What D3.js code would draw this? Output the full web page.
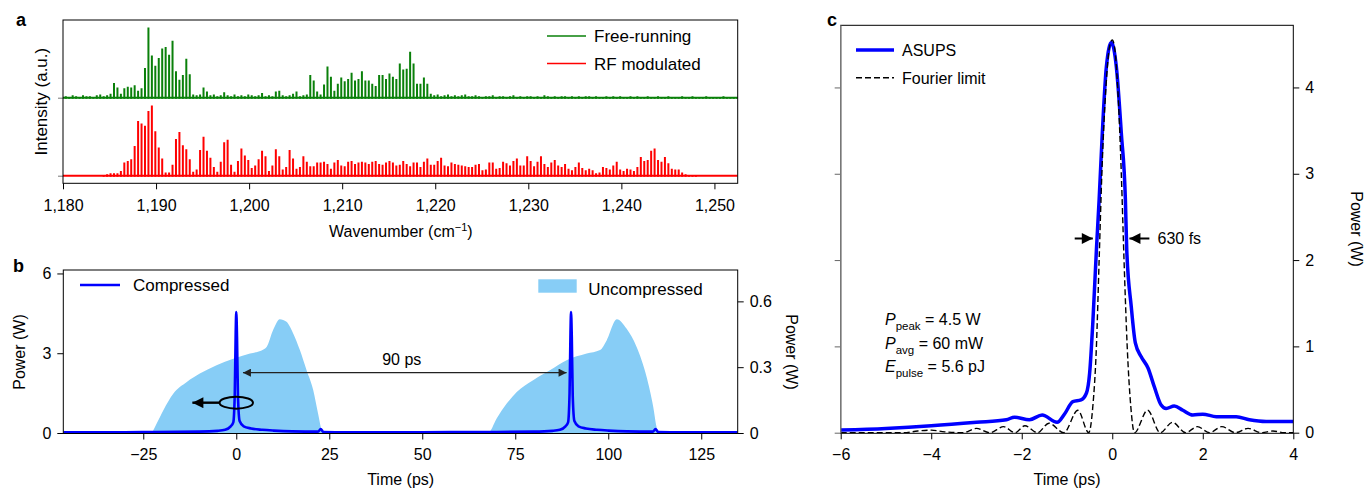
<!DOCTYPE html>
<meta charset="utf-8">
<html>
<head>
<title>ASUPS pulse figure</title>
<script src="https://d3js.org/d3.v7.min.js"></script>
<style>
  body { margin: 0; background: #fff; }
  svg { display: block; font-family: "Liberation Sans", Arial, Helvetica, sans-serif; }
</style>
</head>
<body>
<svg id="fig" width="1368" height="488"></svg>
<script>
// ---------- panel a : comb line intensities, one value per mode (0.37 cm-1 apart)
var modeSpacing = 0.37;
var freeStart = 1180.30;
var freeRunning = [
  0.02,0.01,0.03,0.02,0.01,0.03,0.02,0.02,0.01,0.03,0.04,0.02,0.03,0.05,
  0.19,0.13,0.05,0.12,0.14,0.13,0.16,0.09,0.12,0.38,0.90,0.54,0.41,0.51,0.63,0.65,0.55,0.73,0.34,0.23,
  0.29,0.50,0.30,0.04,0.03,0.04,0.13,0.08,
  0.03,0.04,0.02,0.03,0.07,0.03,0.02,0.04,0.02,0.03,0.02,0.04,0.03,0.02,0.03,0.06,0.02,0.03,0.02,0.08,
  0.09,0.03,0.02,0.03,0.05,0.08,0.02,0.03,0.04,
  0.29,0.22,0.08,0.04,0.17,0.40,0.27,0.09,0.18,0.26,0.21,0.24,0.32,0.22,0.24,0.34,0.22,0.22,0.18,0.15,
  0.29,0.29,0.24,0.31,0.27,0.24,0.44,0.36,0.37,0.59,0.44,0.18,0.18,0.26,0.18,0.05,
  0.03,0.04,0.02,0.03,0.04,0.02,0.03,0.02,0.03,0.04,0.02,0.02,0.03,0.02,0.01,0.02,0.02,0.03,0.01,0.02,
  0.02,0.01,0.02,0.03,0.01,0.02,0.01,0.02,0.02,0.01,0.02,0.01,0.03,0.02,0.01,0.02,0.01,0.02,0.02,0.01,
  0.02,0.01,0.02,0.01,0.02,0.02,0.01,0.02,0.01,0.01,0.02,0.01,0.02,0.01,0.02,0.01,0.01,0.02,0.01,0.02,
  0.01,0.01,0.02,0.01,0.01,0.02,0.01,0.01,0.02,0.01,0.01,0.01,0.02,0.01,0.01,0.02,0.01,0.01,0.01,0.02,
  0.01,0.01,0.01,0.01,0.02,0.01,0.01,0.01,0.01
];
var rfStart = 1184.37;
var rfModulated = [
  0.01,0.02,0.03,0.03,0.03,0.06,
  0.17,0.19,0.21,0.38,0.70,0.67,0.64,0.83,0.90,0.57,0.36,0.22,
  0.04,0.04,0.14,0.47,0.56,0.39,0.34,0.21,0.05,0.08,
  0.33,0.50,0.32,0.23,0.11,0.05,0.18,0.43,0.46,0.14,
  0.05,0.19,0.35,0.26,0.20,0.10,0.13,0.21,0.32,0.25,
  0.06,0.13,0.34,0.25,0.08,0.11,0.33,0.22,0.09,0.11,
  0.25,0.18,0.12,0.12,0.17,0.17,0.18,0.15,0.09,0.17,
  0.20,0.13,0.12,0.18,0.19,0.15,0.17,0.18,0.17,0.15,
  0.18,0.19,0.15,0.14,0.17,0.19,0.17,0.13,0.14,0.19,
  0.15,0.12,0.17,0.17,0.11,0.18,0.22,0.14,0.14,0.19,
  0.23,0.13,0.12,0.17,0.15,0.14,0.13,0.12,0.11,0.11,
  0.14,0.15,0.07,0.08,0.17,0.17,0.09,0.10,0.18,0.16,
  0.13,0.19,0.22,0.13,0.13,0.25,0.19,0.12,0.18,0.25,
  0.15,0.11,0.17,0.20,0.13,0.11,0.15,0.09,0.07,0.11,
  0.17,0.10,0.07,0.09,0.07,0.03,0.04,0.11,0.10,0.08,
  0.13,0.18,0.08,0.06,0.09,0.08,0.06,0.11,0.24,0.19,
  0.20,0.32,0.35,0.20,0.18,0.24,0.16,0.09,0.08,0.08,
  0.04,0.02,0.01,0.01,0.00
];
var wnTicks = [1180, 1190, 1200, 1210, 1220, 1230, 1240, 1250];

// ---------- panel b : [time ps, power]
var uncompressed = [
  [-46.5,0],[-23.0,0],[-22.7,0.003],[-21.4,0.043],[-19.6,0.104],[-16.9,0.18],[-13.3,0.233],[-9.8,0.271],
  [-5.3,0.309],[-0.8,0.339],[3.7,0.362],[7.3,0.381],[8.2,0.393],[9.9,0.469],[11.7,0.519],[13.5,0.507],
  [15.3,0.454],[17.1,0.378],[18.9,0.286],[20.7,0.195],[22.0,0.088],[23.0,0.012],[23.4,0],[32,0],
  [36,0.006],[40,0.004],[45,0],[67.7,0],[70.0,0.066],[72.7,0.134],[75.4,0.187],[79.8,0.241],[84.3,0.286],
  [88.8,0.332],[94.2,0.362],[97.8,0.378],[99.6,0.423],[102.3,0.519],[104.9,0.476],[107.6,0.393],
  [110.3,0.256],[112.1,0.119],[113.0,0.027],[113.4,0],[122,0],[126,0.005],[130,0.003],[134.8,0]
];
var compressed = [
  [-46.5,0.03],[-30,0.03],[-22,0.04],[-10,0.05],[-5,0.08],[-3,0.12],[-1.5,0.25],[-0.8,0.4],[-0.4,1.5],
  [-0.15,3.8],[0,4.55],[0.2,3.6],[0.45,1.4],[0.9,0.45],[2,0.25],[4,0.17],[7,0.12],[10,0.09],[15,0.06],
  [22,0.05],[22.7,0.15],[23.4,0.04],[30,0.03],[50,0.03],[70,0.04],[80,0.05],[85,0.08],[87,0.12],
  [88.5,0.25],[89.2,0.4],[89.6,1.5],[89.85,3.8],[90,4.55],[90.2,3.6],[90.45,1.4],[90.9,0.45],[92,0.25],
  [94,0.17],[97,0.12],[100,0.09],[105,0.06],[112,0.05],[112.7,0.15],[113.4,0.04],[120,0.03],[134.8,0.03]
];
var timeTicksB = [-25, 0, 25, 50, 75, 100, 125];
var powerTicksB = [0, 3, 6];
var powerTicksBR = [0, 0.3, 0.6];

// ---------- panel c : [time ps, power W]
var asups = [
  [-6,0.03],[-5,0.05],[-4,0.08],[-3,0.12],[-2.34,0.15],[-2.16,0.18],[-1.83,0.15],[-1.55,0.205],
  [-1.22,0.12],[-1.05,0.22],[-0.87,0.36],[-0.69,0.38],[-0.57,0.46],[-0.50,0.69],[-0.43,1.27],
  [-0.35,2.12],[-0.29,2.70],[-0.22,3.47],[-0.13,4.24],[-0.02,4.52],[0.09,4.24],[0.20,3.47],[0.29,2.70],
  [0.32,2.12],[0.42,1.46],[0.51,1.04],[0.64,0.88],[0.79,0.75],[0.93,0.53],[1.08,0.32],[1.19,0.28],
  [1.37,0.31],[1.56,0.26],[1.78,0.205],[2.0,0.215],[2.30,0.185],[2.74,0.185],[3.03,0.15],[3.40,0.13],[4,0.13]
];
var fourierLimit = [
  [-6,0],[-4.6,0],[-4.3,0.02],[-4.0,0.03],[-3.7,0.01],[-3.3,0],[-3.0,0.05],[-2.7,0],[-2.4,0.07],[-2.15,0],
  [-1.93,0.08],[-1.65,0],[-1.4,0.11],[-1.07,0],[-0.76,0.26],[-0.52,0],[-0.43,0.3],[-0.35,1.0],[-0.29,2.0],
  [-0.23,3.0],[-0.14,4.0],[-0.05,4.5],[0,4.55],[0.04,4.5],[0.12,4.0],[0.2,3.0],[0.26,2.0],[0.33,1.0],
  [0.41,0.3],[0.49,0],[0.78,0.26],[1.06,0],[1.33,0.12],[1.62,0],[1.88,0.07],[2.15,0],[2.42,0.07],[2.72,0],
  [3.0,0.05],[3.3,0],[3.55,0.02],[3.8,0],[4.0,0]
];
var timeTicksC = [-6, -4, -2, 0, 2, 4];
var powerTicksC = [0, 1, 2, 3, 4];

var svg = d3.select("#fig");
var defs = svg.append("defs");
var plain = d3.format("~g");
function marker(id, w, h, color) {
  defs.append("marker").attr("id", id).attr("viewBox", "0 0 10 10")
    .attr("refX", 10).attr("refY", 5).attr("markerUnits", "userSpaceOnUse")
    .attr("markerWidth", w).attr("markerHeight", h).attr("orient", "auto-start-reverse")
    .append("path").attr("d", "M0,0 L10,5 L0,10 z").attr("fill", color);
}
marker("headSmall", 9, 8, "#222");
marker("headBig", 12, 11, "#000");

function styleAxis(g) {
  g.attr("font-size", 16).attr("font-family", null);
  g.select(".domain").remove();
  g.selectAll(".tick line").attr("stroke", "#000");
}
function frame(x0, y0, x1, y1) {
  svg.append("rect").attr("x", x0).attr("y", y0).attr("width", x1 - x0).attr("height", y1 - y0)
    .attr("fill", "none").attr("stroke", "#000").attr("stroke-width", 1);
}

// ================= panel a
var ax = d3.scaleLinear().domain([1180, 1252.5]).range([63, 737.7]);
var ay = d3.scaleLinear().domain([0, 1]).range([175.7, 97.7]);
var aTop = 20, aBottom = 183.3;
defs.append("clipPath").attr("id", "clipA").append("rect")
  .attr("x", 63).attr("y", aTop).attr("width", 737.7 - 63).attr("height", aBottom - aTop);

function spectrum(vals, start, offset, color) {
  var g = svg.append("g").attr("clip-path", "url(#clipA)");
  g.append("line").attr("x1", ax(1180)).attr("x2", ax(1252.5))
    .attr("y1", ay(offset)).attr("y2", ay(offset))
    .attr("stroke", color).attr("stroke-width", 2);
  g.selectAll("line.mode").data(vals).enter().append("line").attr("class", "mode")
    .attr("x1", function(d, i) { return ax(start + i * modeSpacing); })
    .attr("x2", function(d, i) { return ax(start + i * modeSpacing); })
    .attr("y1", ay(offset) + 1)
    .attr("y2", function(d) { return ay(offset + d); })
    .attr("stroke", color).attr("stroke-width", 2);
}
spectrum(freeRunning, freeStart, 1, "#0a800a");
spectrum(rfModulated, rfStart, 0, "#ff0000");

svg.append("g").attr("transform", "translate(0," + aBottom + ")")
  .call(d3.axisBottom(ax).tickValues(wnTicks).tickFormat(d3.format(",")).tickSize(6).tickPadding(10))
  .call(styleAxis);
svg.append("g").attr("transform", "translate(63,0)")
  .call(d3.axisLeft(ay).tickValues([0, 1]).tickFormat("").tickSize(5))
  .call(styleAxis)
  .selectAll(".tick line").attr("stroke", "#777");
frame(63, aTop, 737.7, aBottom);

svg.append("text").attr("transform", "translate(47," + (aTop + aBottom) / 2 + ") rotate(-90)")
  .attr("text-anchor", "middle").attr("font-size", 17).text("Intensity (a.u.)");
var wl = svg.append("text").attr("x", ax(1216.3)).attr("y", 237).attr("text-anchor", "middle").attr("font-size", 16);
wl.append("tspan").text("Wavenumber (cm");
wl.append("tspan").attr("dy", -6).attr("font-size", 11).text("\u22121");
wl.append("tspan").attr("dy", 6).text(")");

var legA = [["Free-running", "#0a800a"], ["RF modulated", "#ff0000"]];
legA.forEach(function(d, i) {
  var y = 36 + i * 27.5;
  svg.append("line").attr("x1", 547).attr("x2", 586).attr("y1", y).attr("y2", y)
    .attr("stroke", d[1]).attr("stroke-width", 1.5);
  svg.append("text").attr("x", 594).attr("y", y + 6).attr("font-size", 17).text(d[0]);
});

// ================= panel b
var bx = d3.scaleLinear().domain([-46.5, 134.8]).range([63.3, 737.7]);
var byL = d3.scaleLinear().domain([0, 6.13]).range([433, 270]);
var byR = d3.scaleLinear().domain([0, 0.743]).range([433, 270]);
defs.append("clipPath").attr("id", "clipB").append("rect")
  .attr("x", 63.3).attr("y", 270).attr("width", 737.7 - 63.3).attr("height", 164);

var gb = svg.append("g").attr("clip-path", "url(#clipB)");
gb.append("path").datum(uncompressed)
  .attr("d", d3.area().x(function(d) { return bx(d[0]); }).y0(byR(0))
    .y1(function(d) { return byR(d[1]); }).curve(d3.curveMonotoneX))
  .attr("fill", "#87cdf6");
gb.append("path").datum(compressed)
  .attr("d", d3.line().x(function(d) { return bx(d[0]); }).y(function(d) { return byL(d[1]); })
    .curve(d3.curveMonotoneX))
  .attr("fill", "none").attr("stroke", "#0000ff").attr("stroke-width", 2.6);

svg.append("g").attr("transform", "translate(0,433.5)")
  .call(d3.axisBottom(bx).tickValues(timeTicksB).tickSize(6).tickPadding(9))
  .call(styleAxis);
svg.append("g").attr("transform", "translate(63.3,0)")
  .call(d3.axisLeft(byL).tickValues(powerTicksB).tickFormat(plain).tickSize(6).tickPadding(6))
  .call(styleAxis);
svg.append("g").attr("transform", "translate(737.7,0)")
  .call(d3.axisRight(byR).tickValues(powerTicksBR).tickFormat(plain).tickSize(6).tickPadding(6))
  .call(styleAxis);
frame(63.3, 270, 737.7, 433.5);

svg.append("text").attr("transform", "translate(25,352) rotate(-90)")
  .attr("text-anchor", "middle").attr("font-size", 16).text("Power (W)");
svg.append("text").attr("transform", "translate(786,352) rotate(90)")
  .attr("text-anchor", "middle").attr("font-size", 16).text("Power (W)");
svg.append("text").attr("x", bx(44.2)).attr("y", 485).attr("text-anchor", "middle")
  .attr("font-size", 16).text("Time (ps)");

// 90 ps spacing arrow
svg.append("line").attr("x1", bx(1.8)).attr("x2", bx(88.8)).attr("y1", byL(2.27)).attr("y2", byL(2.27))
  .attr("stroke", "#222").attr("stroke-width", 1.3)
  .attr("marker-start", "url(#headSmall)").attr("marker-end", "url(#headSmall)");
svg.append("text").attr("x", bx(44.5)).attr("y", byL(2.55)).attr("text-anchor", "middle")
  .attr("font-size", 16).text("90 ps");
// ellipse pointing to left axis
svg.append("ellipse").attr("cx", bx(0)).attr("cy", byL(1.14)).attr("rx", 16.7).attr("ry", 6)
  .attr("fill", "none").attr("stroke", "#000").attr("stroke-width", 2);
svg.append("line").attr("x1", bx(0) - 16.7).attr("x2", bx(-11.8)).attr("y1", byL(1.14)).attr("y2", byL(1.14))
  .attr("stroke", "#000").attr("stroke-width", 2.4).attr("marker-end", "url(#headBig)");

// legend b
svg.append("line").attr("x1", 80).attr("x2", 120).attr("y1", 285).attr("y2", 285)
  .attr("stroke", "#0000ff").attr("stroke-width", 2.6);
svg.append("text").attr("x", 133).attr("y", 291).attr("font-size", 17).text("Compressed");
svg.append("rect").attr("x", 538.3).attr("y", 279.3).attr("width", 38.4).attr("height", 13.4).attr("fill", "#87cdf6");
svg.append("text").attr("x", 588.3).attr("y", 295).attr("font-size", 17).text("Uncompressed");

// ================= panel c
var cx = d3.scaleLinear().domain([-6, 4]).range([840.7, 1293.3]);
var cy = d3.scaleLinear().domain([0, 4.72]).range([432.7, 25.3]);
defs.append("clipPath").attr("id", "clipC").append("rect")
  .attr("x", 840.7).attr("y", 25.3).attr("width", 1293.3 - 840.7).attr("height", 408);

var gc = svg.append("g").attr("clip-path", "url(#clipC)");
var lineC = d3.line().x(function(d) { return cx(d[0]); }).y(function(d) { return cy(d[1]); })
  .curve(d3.curveMonotoneX);
gc.append("path").datum(asups).attr("d", lineC)
  .attr("fill", "none").attr("stroke", "#0000ff").attr("stroke-width", 3.5);
gc.append("path").datum(fourierLimit).attr("d", lineC)
  .attr("fill", "none").attr("stroke", "#000").attr("stroke-width", 1.4).attr("stroke-dasharray", "6,3");

svg.append("g").attr("transform", "translate(0,433.3)")
  .call(d3.axisBottom(cx).tickValues(timeTicksC).tickSize(6).tickPadding(9))
  .call(styleAxis);
svg.append("g").attr("transform", "translate(840.7,0)")
  .call(d3.axisLeft(cy).tickValues(powerTicksC).tickFormat("").tickSize(6))
  .call(styleAxis)
  .selectAll(".tick line").attr("stroke", "#666");
svg.append("g").attr("transform", "translate(1293.3,0)")
  .call(d3.axisRight(cy).tickValues(powerTicksC).tickFormat(plain).tickSize(6).tickPadding(6))
  .call(styleAxis);
frame(840.7, 25.3, 1293.3, 433.3);
svg.append("line").attr("x1", 840.7).attr("x2", 840.7).attr("y1", 25.3).attr("y2", 433.3)
  .attr("stroke", "#777").attr("stroke-width", 1.4);

svg.append("text").attr("x", 1067).attr("y", 485).attr("text-anchor", "middle")
  .attr("font-size", 16).text("Time (ps)");
svg.append("text").attr("transform", "translate(1351,229) rotate(90)")
  .attr("text-anchor", "middle").attr("font-size", 16).text("Power (W)");

// legend c
svg.append("line").attr("x1", 856).attr("x2", 894).attr("y1", 50).attr("y2", 50)
  .attr("stroke", "#0000ff").attr("stroke-width", 3.5);
svg.append("text").attr("x", 902).attr("y", 56).attr("font-size", 16).text("ASUPS");
svg.append("line").attr("x1", 856).attr("x2", 894).attr("y1", 77.7).attr("y2", 77.7)
  .attr("stroke", "#000").attr("stroke-width", 1.4).attr("stroke-dasharray", "6,3");
svg.append("text").attr("x", 902).attr("y", 83.5).attr("font-size", 16).text("Fourier limit");

// 630 fs width arrows
var yw = cy(2.25);
svg.append("line").attr("x1", cx(-0.83)).attr("x2", cx(-0.43)).attr("y1", yw).attr("y2", yw)
  .attr("stroke", "#000").attr("stroke-width", 2).attr("marker-end", "url(#headBig)");
svg.append("line").attr("x1", cx(0.82)).attr("x2", cx(0.38)).attr("y1", yw).attr("y2", yw)
  .attr("stroke", "#000").attr("stroke-width", 2).attr("marker-end", "url(#headBig)");
svg.append("text").attr("x", cx(1.0)).attr("y", yw + 6).attr("font-size", 16).text("630 fs");

// pulse parameters
var params = [["P", "peak", " = 4.5 W"], ["P", "avg", " = 60 mW"], ["E", "pulse", " = 5.6 pJ"]];
params.forEach(function(p, i) {
  var t = svg.append("text").attr("x", 885).attr("y", 325 + i * 23.5).attr("font-size", 16);
  t.append("tspan").attr("font-style", "italic").text(p[0]);
  t.append("tspan").attr("dy", 5).attr("font-size", 11.5).text(p[1]);
  t.append("tspan").attr("dy", -5).text(p[2]);
});

// panel letters
svg.append("text").attr("x", 16).attr("y", 26).attr("font-size", 18).attr("font-weight", "bold").text("a");
svg.append("text").attr("x", 13).attr("y", 272).attr("font-size", 18).attr("font-weight", "bold").text("b");
svg.append("text").attr("x", 827).attr("y", 26).attr("font-size", 18).attr("font-weight", "bold").text("c");
</script>
</body>
</html>
